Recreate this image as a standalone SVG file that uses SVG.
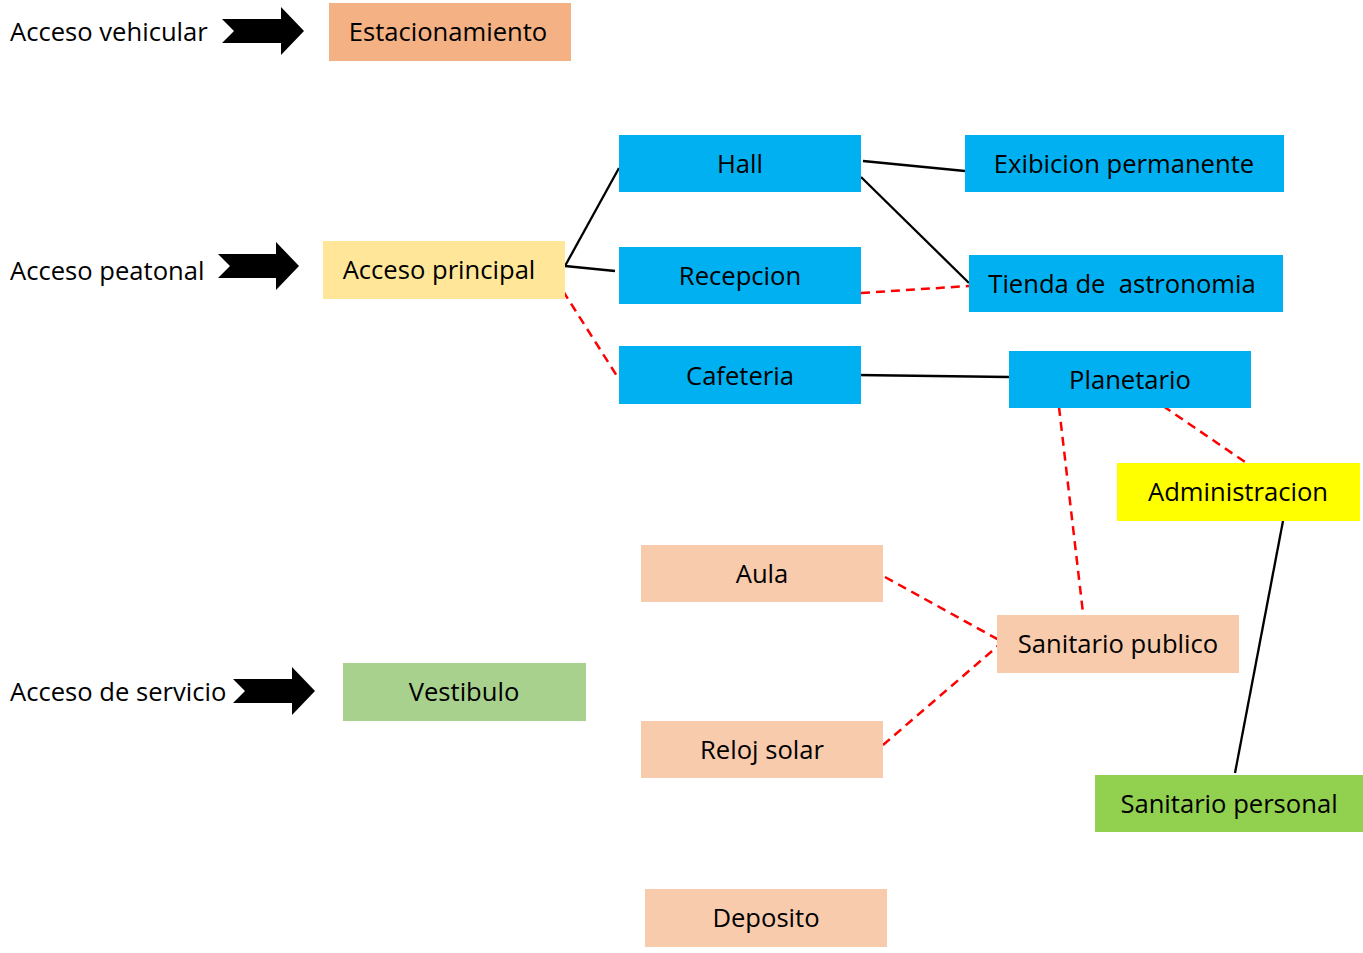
<svg xmlns="http://www.w3.org/2000/svg" width="1363" height="953" viewBox="0 0 1363 953">
<style>
text{font-family:"Open Sans","Liberation Sans",sans-serif;font-size:25.6px;fill:#000}
.c{text-anchor:middle}
.blue{fill:#00B0F0}
.peach{fill:#F8CBAD}
.s{stroke:#000;stroke-width:2.3;fill:none}
.d{stroke:#FF0000;stroke-width:2.5;fill:none;stroke-dasharray:9,6}
.arr{fill:#000}
</style>
<rect width="1363" height="953" fill="#fff"/>
<g id="labels">
<text x="10" y="41">Acceso vehicular</text>
<text x="10" y="280">Acceso peatonal</text>
<text x="10" y="701">Acceso de servicio</text>
</g>
<g id="arrows">
<polygon class="arr" points="222,19 281,19 281,7 304,31 281,55 281,43 222,43 234,31"/>
<polygon class="arr" points="218,254 276,254 276,242 299,266 276,290 276,278 218,278 230,266"/>
<polygon class="arr" points="233,679 292,679 292,667 315,691 292,715 292,703 233,703 245,691"/>
</g>
<g id="connectors">
<line class="s" x1="565" y1="266" x2="619" y2="168"/>
<line class="s" x1="565" y1="266" x2="615" y2="271"/>
<line class="d" x1="563" y1="291" x2="617" y2="376"/>
<line class="s" x1="863" y1="161" x2="965" y2="171"/>
<line class="s" x1="861" y1="177" x2="969" y2="283"/>
<line class="d" x1="861" y1="293" x2="969" y2="286"/>
<line class="s" x1="857" y1="375" x2="1009" y2="377"/>
<line class="d" x1="1059" y1="407" x2="1083" y2="613"/>
<line class="d" x1="1163" y1="406" x2="1245" y2="462"/>
<line class="s" x1="1283" y1="521" x2="1235" y2="773"/>
<line class="d" x1="885" y1="577" x2="999" y2="640"/>
<line class="d" x1="883" y1="745" x2="999" y2="645"/>
</g>
<g id="estacionamiento"><rect x="329" y="3" width="242" height="58" fill="#F4B183"/><text class="c" x="448" y="41">Estacionamiento</text></g>
<g id="hall"><rect class="blue" x="619" y="135" width="242" height="57"/><text class="c" x="740" y="173">Hall</text></g>
<g id="exibicion"><rect class="blue" x="965" y="135" width="319" height="57"/><text class="c" x="1124" y="173">Exibicion permanente</text></g>
<g id="acceso-principal"><rect x="323" y="241" width="242" height="58" fill="#FFE699"/><text class="c" x="439" y="279">Acceso principal</text></g>
<g id="recepcion"><rect class="blue" x="619" y="247" width="242" height="57"/><text class="c" x="740" y="285">Recepcion</text></g>
<g id="tienda"><rect class="blue" x="969" y="255" width="314" height="57"/><text class="c" x="1122" y="293" xml:space="preserve">Tienda de  astronomia</text></g>
<g id="cafeteria"><rect class="blue" x="619" y="346" width="242" height="58"/><text class="c" x="740" y="385">Cafeteria</text></g>
<g id="planetario"><rect class="blue" x="1009" y="351" width="242" height="57"/><text class="c" x="1130" y="389">Planetario</text></g>
<g id="administracion"><rect x="1117" y="463" width="243" height="58" fill="#FFFF00"/><text class="c" x="1238" y="501">Administracion</text></g>
<g id="aula"><rect class="peach" x="641" y="545" width="242" height="57"/><text class="c" x="762" y="583">Aula</text></g>
<g id="sanitario-publico"><rect class="peach" x="997" y="615" width="242" height="58"/><text class="c" x="1118" y="653">Sanitario publico</text></g>
<g id="vestibulo"><rect x="343" y="663" width="243" height="58" fill="#A9D18E"/><text class="c" x="464" y="701">Vestibulo</text></g>
<g id="reloj-solar"><rect class="peach" x="641" y="721" width="242" height="57"/><text class="c" x="762" y="759">Reloj solar</text></g>
<g id="sanitario-personal"><rect x="1095" y="775" width="268" height="57" fill="#92D050"/><text class="c" x="1229" y="813">Sanitario personal</text></g>
<g id="deposito"><rect class="peach" x="645" y="889" width="242" height="58"/><text class="c" x="766" y="927">Deposito</text></g>
</svg>
